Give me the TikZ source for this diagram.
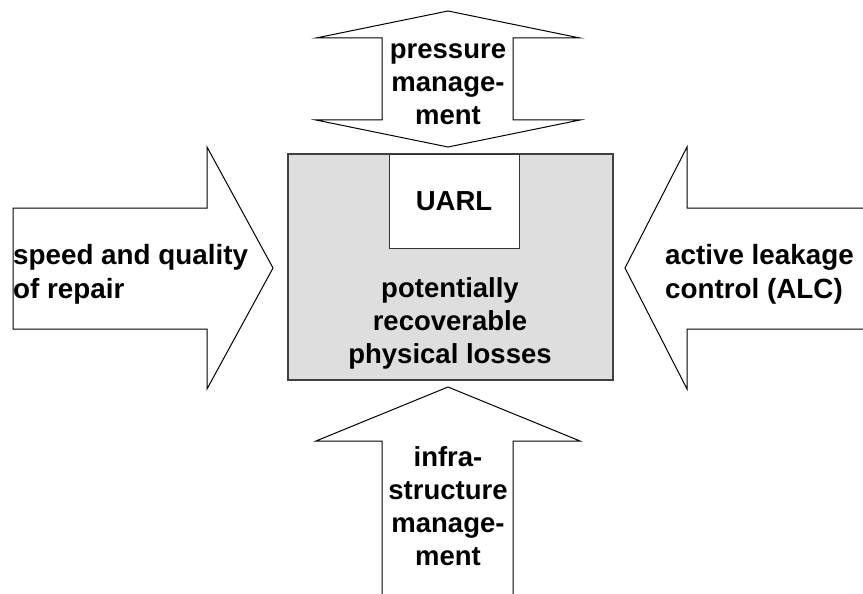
\documentclass[tikz,border=0pt]{standalone}
\usepackage{fontspec}
\setmainfont{Liberation Sans}
\begin{document}
\begin{tikzpicture}[x=1pt,y=-1pt,
  arrowshape/.style={draw=black,fill=white,line width=1pt,line join=miter},
  lbl/.style={font=\fontsize{27.5}{33}\selectfont\bfseries,inner sep=0pt},
  sidelbl/.style={font=\fontsize{27.8}{34}\selectfont\bfseries,inner sep=0pt,align=left,anchor=west},
  lossbox/.style={draw=black!75,fill=black!13,line width=2pt},
  uarlbox/.style={draw=black!80,fill=white,line width=1pt}]
\useasboundingbox (0,0) rectangle (863,594);
% center box
\draw[lossbox] (288,154) rectangle (613,380);
\draw[uarlbox] (389,154) rectangle (519,248);
% top double arrow
\draw[arrowshape] (316,38) -- (448,11) -- (580,38) -- (513,38) -- (513,120) -- (580,120)
  -- (448,147) -- (316,120) -- (382,120) -- (382,38) -- cycle;
% left arrow
\draw[arrowshape] (13,208) -- (207,208) -- (207,147) -- (273,268) -- (207,389)
  -- (207,329) -- (13,329) -- cycle;
% right arrow (open on the right)
\fill[white] (864,208) -- (687,208) -- (687,147) -- (625,268) -- (687,389) -- (687,329) -- (864,329) -- cycle;
\draw[line width=1pt,line join=miter] (864,208) -- (687,208) -- (687,147) -- (625,268) -- (687,389) -- (687,329) -- (864,329);
% bottom arrow (open at the bottom)
\fill[white] (382,595) -- (382,441) -- (316,441) -- (448,387) -- (580,441) -- (513,441) -- (513,595) -- cycle;
\draw[line width=1pt,line join=miter] (382,595) -- (382,441) -- (316,441) -- (448,387) -- (580,441) -- (513,441) -- (513,595);
% labels
\node[lbl,align=center] (pm) at (448,84) {pressure\\manage-\\ment};
\node[sidelbl] (sq) at (13,274) {speed and quality\\of repair};
\node[sidelbl] (alc) at (665,274) {active leakage\\control (ALC)};
\node[lbl,align=center] (im) at (448,506) {infra-\\structure\\manage-\\ment};
\node[lbl] (uarl) at (454,201) {UARL};
\node[lbl,align=center] (prl) at (450,323) {potentially\\recoverable\\physical losses};
\end{tikzpicture}
\end{document}
